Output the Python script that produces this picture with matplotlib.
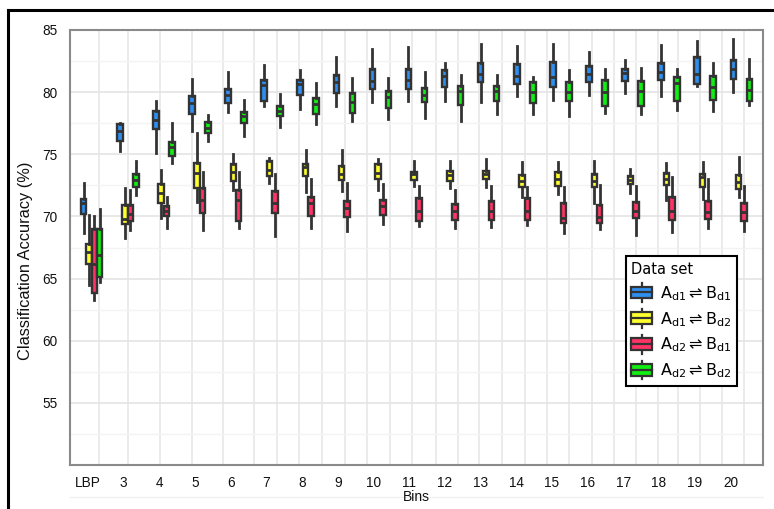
import matplotlib
matplotlib.use("Agg")
import matplotlib.pyplot as plt
import numpy as np
from matplotlib.legend_handler import HandlerBase
from matplotlib.lines import Line2D
from matplotlib.patches import Rectangle

bins = ["LBP", "3", "4", "5", "6", "7", "8", "9", "10", "11", "12",
        "13", "14", "15", "16", "17", "18", "19", "20"]

# each row: whisker low, Q1, median, Q3, whisker high
ad1_bd1 = [
    [68.7, 70.2, 71.1, 71.4, 72.7], [75.3, 76.1, 76.9, 77.4, 77.5],
    [75.1, 77.0, 77.75, 78.5, 79.3], [76.9, 78.25, 79.1, 79.7, 81.05],
    [78.4, 79.1, 79.8, 80.25, 81.65], [78.9, 79.3, 80.55, 81.0, 82.2],
    [78.65, 79.75, 80.65, 81.0, 81.8], [78.9, 79.95, 80.85, 81.35, 82.8],
    [79.2, 80.25, 80.9, 81.9, 83.45], [79.3, 80.25, 81.0, 81.9, 83.6],
    [79.25, 80.4, 81.3, 81.75, 82.35], [79.2, 80.8, 81.45, 82.35, 83.85],
    [79.7, 80.65, 81.3, 82.3, 83.7], [79.4, 80.4, 81.2, 82.4, 83.85],
    [79.75, 80.8, 81.5, 82.1, 83.25], [79.9, 80.9, 81.55, 81.9, 82.55],
    [79.7, 80.95, 81.6, 82.35, 83.8], [80.5, 80.65, 81.45, 82.8, 84.15],
    [80.05, 81.05, 81.85, 82.55, 84.25],
]
ad1_bd2 = [
    [64.5, 66.2, 67.15, 67.8, 70.1], [68.3, 69.4, 69.8, 70.9, 72.3],
    [69.9, 71.05, 71.85, 72.6, 73.7], [71.2, 72.25, 73.5, 74.3, 76.75],
    [72.1, 72.85, 73.55, 74.2, 75.0], [72.65, 73.25, 73.7, 74.5, 74.7],
    [72.0, 73.25, 74.0, 74.25, 75.35], [72.05, 72.9, 73.45, 74.05, 75.35],
    [72.15, 73.05, 73.5, 74.2, 74.6], [72.45, 72.9, 73.4, 73.6, 74.5],
    [72.25, 72.85, 73.3, 73.65, 74.5], [72.35, 73.0, 73.4, 73.65, 74.6],
    [71.6, 72.35, 72.85, 73.3, 74.35], [71.8, 72.45, 73.0, 73.6, 74.35],
    [71.1, 72.4, 72.85, 73.4, 74.45], [71.9, 72.6, 72.9, 73.25, 73.8],
    [71.35, 72.5, 73.0, 73.5, 74.3], [71.4, 72.35, 73.15, 73.4, 74.35],
    [71.55, 72.2, 72.75, 73.3, 74.75],
]
ad2_bd1 = [
    [63.3, 63.8, 66.2, 69.0, 70.0], [68.9, 69.6, 70.2, 70.9, 72.1],
    [69.1, 70.0, 70.4, 70.8, 71.6], [68.9, 70.25, 71.35, 72.3, 73.6],
    [69.1, 69.6, 71.3, 72.1, 73.55], [68.45, 70.3, 71.1, 72.05, 73.45],
    [69.1, 70.0, 71.1, 71.6, 73.05], [68.85, 69.95, 70.65, 71.25, 72.7],
    [69.4, 70.1, 70.8, 71.35, 72.6], [69.2, 69.6, 70.45, 71.45, 72.45],
    [69.1, 69.7, 70.45, 71.0, 72.1], [69.15, 69.7, 70.45, 71.25, 72.45],
    [69.3, 69.75, 70.45, 71.5, 72.35], [68.65, 69.5, 69.9, 71.1, 72.35],
    [68.95, 69.5, 69.95, 70.95, 72.55], [68.5, 69.9, 70.45, 71.2, 72.45],
    [68.75, 69.7, 70.45, 71.55, 73.15], [69.05, 69.8, 70.35, 71.25, 73.05],
    [68.85, 69.65, 70.35, 71.1, 72.45],
]
ad2_bd2 = [
    [64.7, 65.1, 66.9, 69.0, 70.6], [71.7, 72.4, 72.9, 73.4, 74.45],
    [74.3, 74.9, 75.6, 76.0, 77.5], [76.1, 76.7, 77.15, 77.6, 78.2],
    [76.5, 77.55, 78.1, 78.4, 79.35], [77.2, 78.1, 78.5, 78.9, 79.85],
    [77.4, 78.25, 79.05, 79.5, 80.75], [77.7, 78.3, 79.2, 79.95, 81.1],
    [77.85, 78.75, 79.6, 80.1, 81.15], [77.95, 79.2, 79.75, 80.3, 81.6],
    [77.7, 78.95, 80.1, 80.5, 81.4], [78.25, 79.25, 80.1, 80.5, 81.4],
    [78.25, 79.1, 80.0, 80.8, 81.25], [78.1, 79.3, 80.0, 80.8, 81.75],
    [78.35, 78.9, 80.0, 80.95, 81.85], [78.25, 78.85, 80.1, 80.9, 81.95],
    [78.55, 79.25, 80.7, 81.25, 81.9], [78.5, 79.4, 80.4, 81.3, 82.35],
    [78.95, 79.3, 80.15, 81.05, 82.7],
]

series = [ad1_bd1, ad1_bd2, ad2_bd1, ad2_bd2]
labels = [
    r"$\mathregular{A_{d1}\rightleftharpoons B_{d1}}$",
    r"$\mathregular{A_{d1}\rightleftharpoons B_{d2}}$",
    r"$\mathregular{A_{d2}\rightleftharpoons B_{d1}}$",
    r"$\mathregular{A_{d2}\rightleftharpoons B_{d2}}$",
]
colors = ["#2f8ff0", "#ffff2e", "#ff3366", "#11ee11"]
EDGE = "#333333"

plt.rcParams["mathtext.fontset"] = "dejavusans"


class BoxHandler(HandlerBase):
    def create_artists(self, legend, orig_handle, xdescent, ydescent,
                       width, height, fontsize, trans):
        x0, y0 = -xdescent, -ydescent
        whisk = Line2D([x0 + width / 2] * 2, [y0 - 0.3 * height, y0 + 1.3 * height],
                       color=EDGE, lw=1.6, transform=trans)
        box = Rectangle((x0, y0), width, height, facecolor=orig_handle.get_facecolor(),
                        edgecolor=EDGE, lw=1.6, transform=trans)
        med = Line2D([x0, x0 + width], [y0 + height / 2] * 2, color=EDGE, lw=1.6,
                     transform=trans)
        return [whisk, box, med]


fig = plt.figure(figsize=(7.74, 5.09), dpi=100)
ax = fig.add_axes([70 / 774, 1 - 465 / 509, 693 / 774, 435 / 509])

step = 0.148
offsets = (np.arange(4) - 1.5) * step
n = len(bins)
for k, data in enumerate(series):
    stats = [dict(whislo=r[0], q1=r[1], med=r[2], q3=r[3], whishi=r[4], fliers=[])
             for r in data]
    ax.bxp(stats, positions=np.arange(n) + offsets[k], widths=0.155,
           patch_artist=True, showcaps=False, showfliers=False, manage_ticks=False,
           boxprops=dict(facecolor=colors[k], edgecolor=EDGE, lw=1.7),
           medianprops=dict(color=EDGE, lw=2.0),
           whiskerprops=dict(color=EDGE, lw=2.0), zorder=3)

ax.set_xlim(-0.6, 18.6)
ax.set_ylim(50, 85)

# grid
vgrid = [0.21, 1.02, 1.90, 2.79, 3.65, 4.51, 5.14, 5.75, 6.39, 7.03, 7.64, 8.27,
         8.88, 9.55, 10.16, 10.74, 11.38, 12.01, 12.62, 13.23, 13.87, 14.48,
         15.09, 15.70, 16.25, 16.86, 17.47, 18.08]
for xg in vgrid:
    ax.axvline(xg, color="#e8e8e8", lw=1.2, zorder=0)
for yg in np.arange(55, 85, 5):
    ax.axhline(yg, color="#e4e4e4", lw=1.2, zorder=0)
for yg in np.arange(52.5, 85, 5):
    ax.axhline(yg, color="#f3f3f3", lw=1.0, zorder=0)

ax.set_yticks(np.arange(55, 86, 5))
ax.set_xticks(np.arange(n) * 0.989 - 0.105)
ax.set_xticklabels(bins)
ax.tick_params(length=0, labelsize=9.8, labelcolor="#111111")
ax.tick_params(axis="y", pad=9)
ax.tick_params(axis="x", pad=8)
for lab in ax.get_xticklabels() + ax.get_yticklabels():
    lab.set_fontfamily("Liberation Sans")

for sp in ax.spines.values():
    sp.set_color("#8a8a8a")
    sp.set_linewidth(1.5)

ax.set_ylabel("Classification Accuracy (%)", fontsize=11.8, family="Liberation Sans",
              color="#111111")
ax.yaxis.set_label_coords(-0.053, 0.47)
ax.set_xlabel("Bins", fontsize=10, family="Liberation Sans", color="#111111", labelpad=0)

handles = [Rectangle((0, 0), 1, 1, facecolor=c) for c in colors]
leg = ax.legend(handles, labels, title="Data set", loc="upper left",
                bbox_to_anchor=(0.802, 0.480), borderaxespad=0, fancybox=False,
                edgecolor="black", framealpha=1, fontsize=11.5, title_fontsize=10.5,
                prop={"family": "DejaVu Sans", "size": 11.5},
                handler_map={Rectangle: BoxHandler()}, handlelength=1.3,
                handleheight=0.75, handletextpad=0.5, labelspacing=0.45,
                borderpad=0.35)
leg._legend_box.align = "left"
leg.get_title().set_fontfamily("DejaVu Sans")
leg.get_frame().set_linewidth(1.5)
leg.set_zorder(5)

# outer frame and faint baseline under tick labels
fig.add_artist(Line2D([8 / 774, 1], [1 - 10 / 509] * 2, color="black", lw=2.2))
fig.add_artist(Line2D([8 / 774] * 2, [0, 1 - 10 / 509], color="black", lw=2.2))
fig.add_artist(Line2D([70 / 774, 763 / 774], [1 - 497 / 509] * 2, color="#f0f0f0",
                      lw=1, zorder=-1))

fig.savefig("out.png", dpi=100)
